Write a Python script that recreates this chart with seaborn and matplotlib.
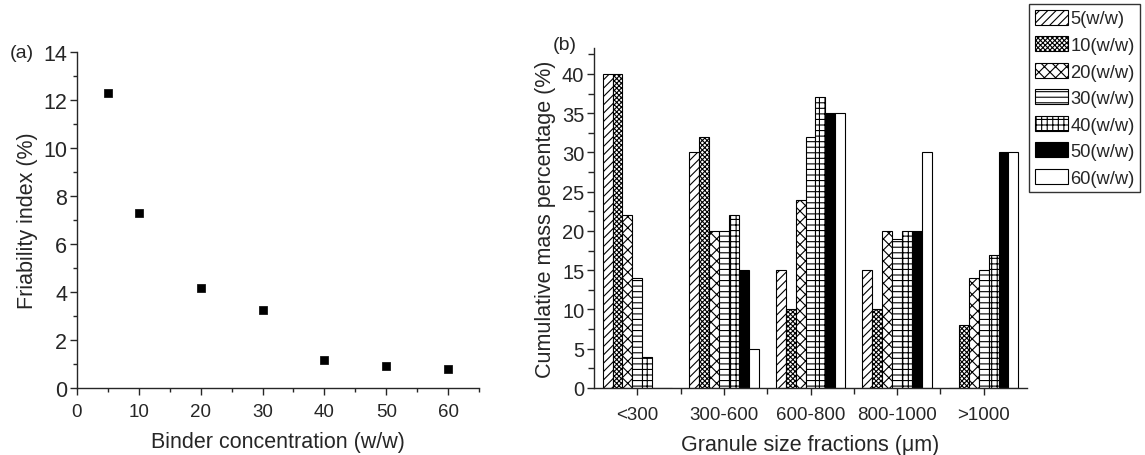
import matplotlib
matplotlib.use("Agg")
import matplotlib.pyplot as plt
import seaborn as sns
import pandas as pd
import numpy as np
from matplotlib.ticker import MultipleLocator, FixedLocator
from matplotlib.patches import Patch

# ---- data ----
binder_conc = [5, 10, 20, 30, 40, 50, 60]
friability = [12.3, 7.3, 4.15, 3.25, 1.15, 0.93, 0.8]

size_fractions = ["<300", "300-600", "600-800", "800-1000", ">1000"]
series_labels = ["5(w/w)", "10(w/w)", "20(w/w)", "30(w/w)", "40(w/w)", "50(w/w)", "60(w/w)"]
mass_5 = [40, 30, 15, 15, 0]
mass_10 = [40, 32, 10, 10, 8]
mass_20 = [22, 20, 24, 20, 14]
mass_30 = [14, 20, 32, 19, 15]
mass_40 = [4, 22, 37, 20, 17]
mass_50 = [0, 15, 35, 20, 30]
mass_60 = [0, 5, 35, 30, 30]
all_mass = [mass_5, mass_10, mass_20, mass_30, mass_40, mass_50, mass_60]

sns.set_style("ticks")
plt.rcParams['font.family'] = ['Liberation Sans', 'DejaVu Sans']
plt.rcParams['hatch.linewidth'] = 0.8

W, H = 1145, 456
fig = plt.figure(figsize=(W / 100, H / 100), dpi=100)
axL = fig.add_axes([77 / W, 1 - 389 / H, 402 / W, 336 / H])
axR = fig.add_axes([594 / W, 1 - 389 / H, 433 / W, 340 / H])

# ---- left panel ----
dfL = pd.DataFrame({"conc": binder_conc, "fri": friability})
sns.scatterplot(data=dfL, x="conc", y="fri", ax=axL, marker="s", s=32,
                color="black", edgecolor="black", linewidth=0.5)
axL.set_xlim(0, 65)
axL.set_ylim(0, 14)
axL.xaxis.set_major_locator(MultipleLocator(10))
axL.xaxis.set_minor_locator(MultipleLocator(5))
axL.yaxis.set_major_locator(MultipleLocator(2))
axL.yaxis.set_minor_locator(MultipleLocator(1))
axL.set_xlabel("Binder concentration (w/w)", fontsize=15.5, labelpad=8)
axL.set_ylabel("Friability index (%)", fontsize=15.5, labelpad=4)
axL.tick_params(axis='both', which='major', labelsize=13.5, length=5, width=1, direction='out')
axL.tick_params(axis='both', which='minor', length=3, width=1, direction='out')
axL.tick_params(axis='y', labelsize=15.5, pad=2)
axL.tick_params(axis='x', pad=6)
for s in ["top", "right"]:
    axL.spines[s].set_visible(False)
for s in ["left", "bottom"]:
    axL.spines[s].set_linewidth(1)
fig.text(10 / W, 1 - 58 / H, "(a)", fontsize=14)

# ---- right panel ----
rows = []
for lab, vals in zip(series_labels, all_mass):
    for cat, v in zip(size_fractions, vals):
        rows.append({"fraction": cat, "binder": lab, "mass": v})
dfR = pd.DataFrame(rows)

hatches = ["////", "xxxxxxx", "xxx", "---", "+++", "", ""]
faces = ["white", "white", "white", "white", "white", "black", "white"]

sns.barplot(data=dfR, x="fraction", y="mass", hue="binder", order=size_fractions,
            hue_order=series_labels, ax=axR, width=0.8, legend=False,
            palette=["white"] * 7, edgecolor="black", linewidth=0.8, saturation=1)

ncat = len(size_fractions)
bars = [p for p in axR.patches]
for i, p in enumerate(bars[:ncat * len(series_labels)]):
    k = i // ncat
    p.set_hatch(hatches[k])
    p.set_facecolor(faces[k])
    p.set_edgecolor("black")

axR.set_xlim(-0.5, 4.5)
axR.set_ylim(0, 43.3)
axR.yaxis.set_major_locator(MultipleLocator(5))
axR.yaxis.set_minor_locator(MultipleLocator(2.5))
axR.xaxis.set_minor_locator(FixedLocator([0.5, 1.5, 2.5, 3.5]))
axR.set_xlabel("Granule size fractions (\u03bcm)", fontsize=15.5, labelpad=8)
axR.set_ylabel("Cumulative mass percentage (%)", fontsize=15.5, labelpad=4)
axR.tick_params(axis='both', which='major', labelsize=13.5, length=5, width=1, direction='out')
axR.tick_params(axis='both', which='minor', length=4, width=1, direction='out')
axR.tick_params(axis='x', pad=8)
axR.tick_params(axis='y', labelsize=14.5, pad=2)
for s in ["top", "right"]:
    axR.spines[s].set_visible(False)
for s in ["left", "bottom"]:
    axR.spines[s].set_linewidth(1)
fig.text(553 / W, 1 - 50 / H, "(b)", fontsize=14)

handles = [Patch(facecolor=faces[k], edgecolor="black", hatch=hatches[k], linewidth=0.8,
                 label=series_labels[k]) for k in range(len(series_labels))]
leg = fig.legend(handles=handles, loc="upper left", bbox_to_anchor=(1029 / W, 1 - 5 / H),
                 fontsize=13.2, frameon=True, fancybox=False, edgecolor="black",
                 handlelength=1.85, handleheight=0.9, handletextpad=0.1,
                 labelspacing=0.47, borderpad=0.3, borderaxespad=0.0)
leg.get_frame().set_linewidth(1)

fig.savefig("out.png", dpi=100)
